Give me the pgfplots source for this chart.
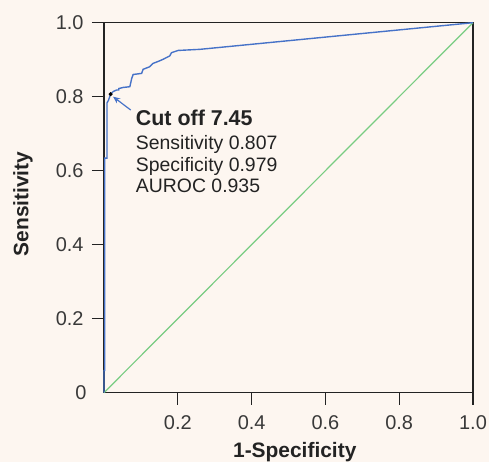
\documentclass[border=0pt]{standalone}
\usepackage{pgfplots}
\pgfplotsset{compat=1.18}
\usepackage{fontspec}
\setmainfont{Liberation Sans}
\usetikzlibrary{arrows.meta}
\definecolor{bg}{RGB}{253,246,240}
\definecolor{rocblue}{RGB}{70,114,200}
\definecolor{diag}{RGB}{120,204,130}
\definecolor{txt}{RGB}{35,35,35}
\begin{document}
\begin{tikzpicture}
\path[use as bounding box, fill=bg] (-104bp,-69.3bp) rectangle (385bp,392.7bp);
\begin{axis}[
  at={(0,0)}, anchor=south west,
  scale only axis, width=369bp, height=370bp,
  xmin=0, xmax=1, ymin=0, ymax=1,
  axis line style={txt, line width=1.3pt},
  tick pos=left, tick align=outside,
  major tick length=12bp,
  tick style={txt, line width=1.3pt},
  xtick={0.2,0.4,0.6,0.8,1.0},
  ytick={0.2,0.4,0.6,0.8,1.0},
  extra y ticks={0}, extra y tick labels={0},
  extra y tick style={major tick length=0pt, yticklabel style={xshift=-9bp}},
  /pgf/number format/assume math mode=true,
  /pgf/number format/.cd, fixed, fixed zerofill, precision=1, /pgfplots/.cd,
  ticklabel style={font=\fontsize{20}{24}\selectfont, text=txt!90},
  xticklabel style={yshift=-7bp},
  yticklabel style={xshift=-5bp},
  xlabel={1-Specificity}, ylabel={Sensitivity},
  label style={font=\fontsize{21}{25}\selectfont\bfseries, text=txt},
  xlabel style={at={(axis description cs:0.517,0)}, anchor=base, yshift=-65bp},
  ylabel style={at={(axis description cs:0,0.51)}, anchor=center, yshift=81bp},
  clip=false,
]
\addplot[diag, line width=1.2pt] coordinates {(0,0) (1,1)};
\addplot[rocblue, line width=1.4pt] coordinates {
(0,0) (0,0.06) (0.002,0.06) (0.002,0.634) (0.008,0.634) (0.008,0.783)
(0.012,0.790) (0.018,0.807) (0.025,0.814) (0.034,0.818) (0.040,0.818)
(0.040,0.822) (0.052,0.825) (0.070,0.827) (0.073,0.840) (0.075,0.849)
(0.079,0.860) (0.102,0.863) (0.106,0.874) (0.124,0.881) (0.133,0.890)
(0.151,0.897) (0.160,0.901) (0.178,0.910) (0.183,0.919) (0.201,0.925)
(0.260,0.928) (1,1)};
\addplot[only marks, mark=*, mark size=1.8pt, black] coordinates {(0.018,0.807)};
\draw[rocblue, line width=1.2pt, -{Stealth[length=7bp,width=6bp]}] (axis cs:0.0725,0.764) -- (axis cs:0.0245,0.800);
\node[anchor=base west, inner sep=0pt, text=txt, font=\fontsize{21.5}{25}\selectfont\bfseries] at (axis cs:0.086,0.7235) {Cut off 7.45};
\node[anchor=base west, inner sep=0pt, text=txt, font=\fontsize{19.5}{22}\selectfont] at (axis cs:0.086,0.656) {Sensitivity 0.807};
\node[anchor=base west, inner sep=0pt, text=txt, font=\fontsize{19.5}{22}\selectfont] at (axis cs:0.086,0.5965) {Specificity 0.979};
\node[anchor=base west, inner sep=0pt, text=txt, font=\fontsize{19.5}{22}\selectfont] at (axis cs:0.086,0.54) {AUROC 0.935};
\end{axis}
\end{tikzpicture}
\end{document}
